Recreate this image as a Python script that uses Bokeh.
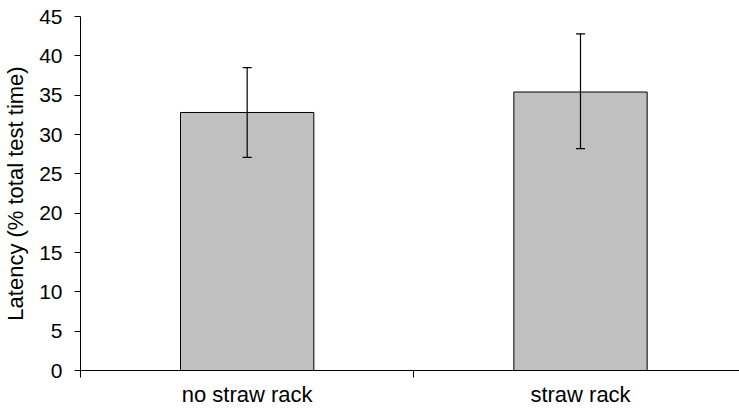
from bokeh.plotting import figure
from bokeh.models import ColumnDataSource, FixedTicker, Whisker, TeeHead, Range1d
from bokeh.embed import file_html
from bokeh.resources import INLINE

categories = ["no straw rack", "straw rack"]
means = [32.8, 35.4]
err_low = [27.1, 28.2]
err_high = [38.5, 42.8]
y_ticks = [0, 5, 10, 15, 20, 25, 30, 35, 40, 45]

xpos = [i + 0.5 for i in range(len(categories))]
src = ColumnDataSource(dict(x=xpos, top=means, lower=err_low, upper=err_high))

FONT = "Liberation Sans"
p = figure(width=739, height=409, output_backend="svg", toolbar_location=None,
           x_range=Range1d(0, 1.977), y_range=Range1d(0, 45),
           min_border_left=80, min_border_right=0, min_border_top=16, min_border_bottom=39)
p.outline_line_color = None
p.grid.visible = False

p.vbar(x="x", top="top", width=0.4, source=src, fill_color="#c0c0c0",
       line_color="#000000", line_width=1)
w = Whisker(base="x", upper="upper", lower="lower", source=src, level="overlay",
            line_color="#000000", line_width=1.2,
            upper_head=TeeHead(size=9, line_color="#000000", line_width=1.2),
            lower_head=TeeHead(size=9, line_color="#000000", line_width=1.2))
p.add_layout(w)

ya = p.yaxis[0]
ya.ticker = FixedTicker(ticks=y_ticks, minor_ticks=[])
ya.major_tick_out = 6
ya.major_tick_in = 0
ya.major_label_standoff = 12
ya.major_label_text_font = FONT
ya.major_label_text_font_size = "21px"
ya.major_label_text_color = "#000000"
ya.axis_label = "Latency (% total test time)"
ya.axis_label_text_font = FONT
ya.axis_label_text_font_size = "22px"
ya.axis_label_text_font_style = "normal"
ya.axis_label_text_color = "#000000"
ya.axis_label_standoff = 8
ya.axis_line_color = "#000000"
ya.major_tick_line_color = "#000000"

xa = p.xaxis[0]
xa.ticker = FixedTicker(ticks=xpos, minor_ticks=[0, 1, 2])
xa.major_label_overrides = {xpos[i]: categories[i] for i in range(len(categories))}
xa.major_tick_out = 0
xa.major_tick_in = 0
xa.minor_tick_out = 7
xa.minor_tick_in = 0
xa.minor_tick_line_color = "#000000"
xa.major_label_standoff = 4
xa.major_label_text_font = FONT
xa.major_label_text_font_size = "22px"
xa.major_label_text_color = "#000000"
xa.axis_line_color = "#000000"

open("out.html", "w").write(file_html(p, INLINE))
